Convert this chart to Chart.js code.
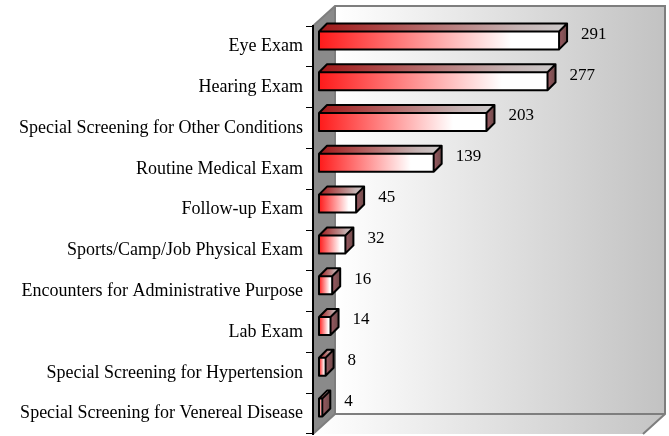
<!DOCTYPE html>
<html>
<head>
<meta charset="utf-8">
<script src="https://cdn.jsdelivr.net/npm/chart.js@4.4.1/dist/chart.umd.min.js"></script>
<style>
  html, body { margin: 0; padding: 0; background: #fff; }
  #wrap { width: 669px; height: 436px; }
</style>
</head>
<body>
<div id="wrap"><canvas id="myChart"></canvas></div>
<script>
const categories = [
  'Eye Exam',
  'Hearing Exam',
  'Special Screening for Other Conditions',
  'Routine Medical Exam',
  'Follow-up Exam',
  'Sports/Camp/Job Physical Exam',
  'Encounters for Administrative Purpose',
  'Lab Exam',
  'Special Screening for Hypertension',
  'Special Screening for Venereal Disease'
];
const counts = [291, 277, 203, 139, 45, 32, 16, 14, 8, 4];
const axisMax = 400;

// depth of the 3d box and where bars sit inside it
const DX = 22, DY = 20;
const BAR_OFF = 6, BAR_DEPTH = 8;

// walls + floor, drawn before the axis so the axis line sits on top
const walls = {
  id: 'walls',
  beforeDraw(chart) {
    const ctx = chart.ctx;
    const { left: L, right: R, top: T, bottom: B } = chart.chartArea;
    ctx.save();

    // back wall
    let g = ctx.createLinearGradient(L + DX, 0, R + DX, 0);
    g.addColorStop(0, '#ffffff');
    g.addColorStop(1, '#c2c2c2');
    ctx.fillStyle = g;
    ctx.fillRect(L + DX, T - DY, R - L, B - T);

    // left wall
    ctx.fillStyle = '#8a8a8a';
    ctx.beginPath();
    ctx.moveTo(L, T);
    ctx.lineTo(L + DX, T - DY);
    ctx.lineTo(L + DX, B - DY);
    ctx.lineTo(L, B);
    ctx.closePath();
    ctx.fill();

    // floor
    g = ctx.createLinearGradient(L, 0, R + DX, 0);
    g.addColorStop(0, '#ffffff');
    g.addColorStop(1, '#c4c4c4');
    ctx.fillStyle = g;
    ctx.beginPath();
    ctx.moveTo(L, B);
    ctx.lineTo(L + DX, B - DY);
    ctx.lineTo(R + DX, B - DY);
    ctx.lineTo(R, B);
    ctx.closePath();
    ctx.fill();

    // edges
    ctx.strokeStyle = '#7e7e7e';
    ctx.lineWidth = 2;
    ctx.beginPath();
    ctx.moveTo(L, T);
    ctx.lineTo(L + DX, T - DY);
    ctx.lineTo(R + DX, T - DY);
    ctx.lineTo(R + DX, B - DY);
    ctx.lineTo(R, B);
    ctx.moveTo(L + DX, T - DY);
    ctx.lineTo(L + DX, B - DY);
    ctx.lineTo(R + DX, B - DY);
    ctx.moveTo(L + DX, B - DY);
    ctx.lineTo(L, B);
    ctx.stroke();
    ctx.restore();
  }
};

// 3d boxes on top of the (invisible) chart.js bars, plus the value labels
const boxes = {
  id: 'boxes',
  afterDatasetsDraw(chart) {
    const ctx = chart.ctx;
    const meta = chart.getDatasetMeta(0);
    ctx.save();
    meta.data.forEach((bar, i) => {
      const x0 = bar.base + BAR_OFF;
      const x1 = bar.x + BAR_OFF;
      const y0 = bar.y - BAR_OFF - bar.height / 2;
      const y1 = bar.y - BAR_OFF + bar.height / 2;
      const d = BAR_DEPTH;

      // front
      let g = ctx.createLinearGradient(x0, 0, x1, 0);
      g.addColorStop(0, '#ff1a1a');
      g.addColorStop(0.45, '#ff9a9a');
      g.addColorStop(0.8, '#ffffff');
      g.addColorStop(1, '#ffffff');
      ctx.fillStyle = g;
      ctx.fillRect(x0, y0, x1 - x0, y1 - y0);

      // top
      g = ctx.createLinearGradient(x0, 0, x1 + d, 0);
      g.addColorStop(0, '#a01616');
      g.addColorStop(0.8, '#c4b2b2');
      g.addColorStop(1, '#cccaca');
      ctx.fillStyle = g;
      ctx.beginPath();
      ctx.moveTo(x0, y0);
      ctx.lineTo(x0 + d, y0 - d);
      ctx.lineTo(x1 + d, y0 - d);
      ctx.lineTo(x1, y0);
      ctx.closePath();
      ctx.fill();

      // right side
      g = ctx.createLinearGradient(x1, 0, x1 + d, 0);
      g.addColorStop(0, '#9a5a62');
      g.addColorStop(1, '#6e4a4a');
      ctx.fillStyle = g;
      ctx.beginPath();
      ctx.moveTo(x1, y0);
      ctx.lineTo(x1 + d, y0 - d);
      ctx.lineTo(x1 + d, y1 - d);
      ctx.lineTo(x1, y1);
      ctx.closePath();
      ctx.fill();

      // outline
      ctx.strokeStyle = '#000';
      ctx.lineWidth = 2;
      ctx.lineJoin = 'round';
      ctx.beginPath();
      ctx.rect(x0, y0, x1 - x0, y1 - y0);
      ctx.moveTo(x0, y0);
      ctx.lineTo(x0 + d, y0 - d);
      ctx.lineTo(x1 + d, y0 - d);
      ctx.lineTo(x1 + d, y1 - d);
      ctx.lineTo(x1, y1);
      ctx.moveTo(x1, y0);
      ctx.lineTo(x1 + d, y0 - d);
      ctx.stroke();

      // value
      ctx.fillStyle = '#000';
      ctx.font = '17px "Liberation Serif", "Times New Roman", serif';
      ctx.textAlign = 'left';
      ctx.textBaseline = 'middle';
      ctx.fillText(String(counts[i]), x1 + d + 14, bar.y - 12);
    });
    ctx.restore();
  }
};

const ctx = document.getElementById('myChart');

const myChart = new Chart(ctx, {
  type: 'bar',
  data: {
    labels: categories,
    datasets: [{
      data: counts,
      backgroundColor: 'rgba(0,0,0,0)',
      borderWidth: 0,
      categoryPercentage: 1,
      barPercentage: 0.44
    }]
  },
  options: {
    indexAxis: 'y',
    responsive: true,
    maintainAspectRatio: false,
    animation: false,
    events: [],
    layout: { padding: { top: 26, right: 26, bottom: 2, left: 0 } },
    plugins: {
      legend: { display: false },
      tooltip: { enabled: false }
    },
    scales: {
      x: {
        display: false,
        min: 0,
        max: axisMax
      },
      y: {
        afterFit: (scale) => {
          scale.width = 313;
          scale.paddingTop = 0;
          scale.paddingBottom = 0;
        },
        border: { display: true, color: '#000', width: 2 },
        grid: {
          drawOnChartArea: false,
          drawTicks: true,
          tickLength: 7,
          color: '#000',
          lineWidth: 1
        },
        ticks: {
          color: '#000',
          padding: 3,
          font: { family: '"Liberation Serif", "Times New Roman", serif', size: 18 }
        }
      }
    }
  },
  plugins: [walls, boxes]
});
</script>
</body>
</html>
